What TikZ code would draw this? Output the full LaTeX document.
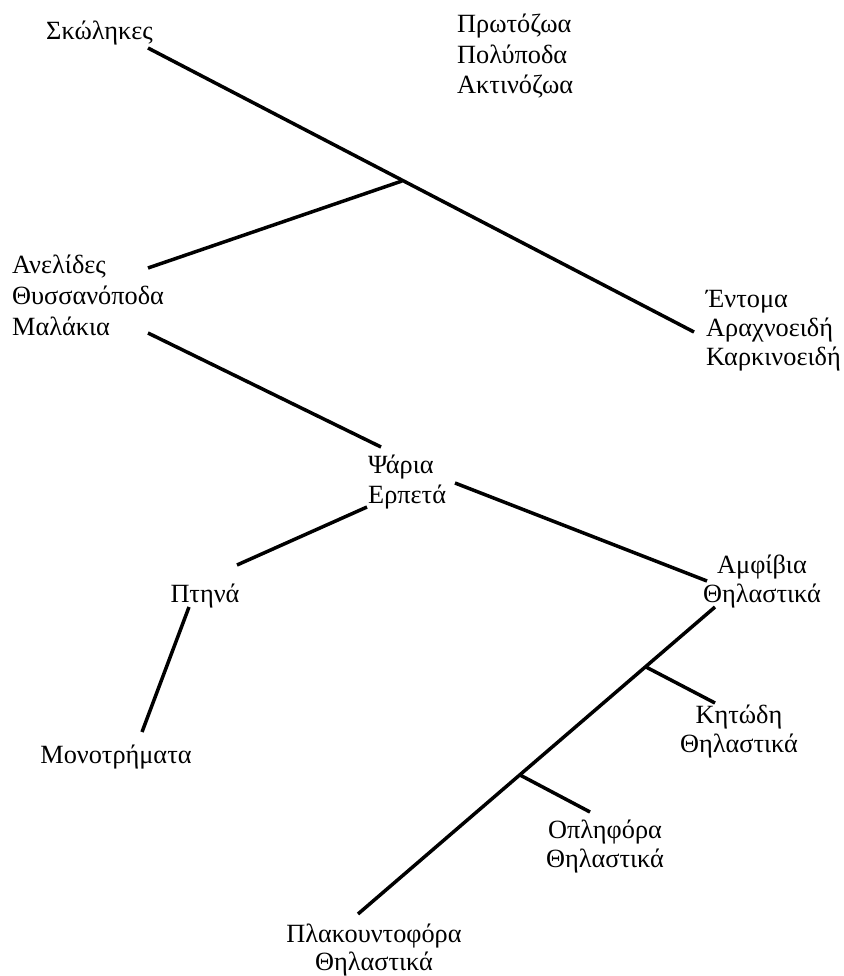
\documentclass[tikz,border=0pt]{standalone}
\usepackage{fontspec}
\setmainfont{Liberation Serif}
\begin{document}
\begin{tikzpicture}[x=1pt,y=-1pt,
  lbl/.style={inner sep=0pt,font=\fontsize{26.3}{30}\selectfont},
  lw/.style={lbl,anchor=base west},
  lc/.style={lbl,anchor=base},
  branch/.style={line width=3.5pt,line cap=butt}]
\useasboundingbox (0,0) rectangle (843,976);

% upper groups (left-aligned text)
\node[lw] (skol) at (46,40) {Σκώληκες};
\node[lw] (prot) at (457,33) {Πρωτόζωα};
\node[lw] (poly) at (457,64) {Πολύποδα};
\node[lw] (akti) at (457,94) {Ακτινόζωα};
\node[lw] (anel) at (12,273) {Ανελίδες};
\node[lw] (thys) at (12,304) {Θυσσανόποδα};
\node[lw] (mala) at (12,335) {Μαλάκια};
\node[lw] (ento) at (706,307) {Έντομα};
\node[lw] (arax) at (706,336) {Αραχνοειδή};
\node[lw] (kark) at (706,365) {Καρκινοειδή};
\node[lw] (psar) at (368,473) {Ψάρια};
\node[lw] (erpe) at (368,503) {Ερπετά};

% lower groups (centred text)
\node[lc] (amfi) at (762,573) {Αμφίβια};
\node[lc] (thla) at (762,602) {Θηλαστικά};
\node[lc] (ptin) at (205,602) {Πτηνά};
\node[lc] (mono) at (116,763) {Μονοτρήματα};
\node[lc] (kito) at (739,723) {Κητώδη};
\node[lc] (thlk) at (739,752) {Θηλαστικά};
\node[lc] (opli) at (605,838) {Οπληφόρα};
\node[lc] (thlo) at (605,867) {Θηλαστικά};
\node[lc] (plak) at (374,942) {Πλακουντοφόρα};
\node[lc] (thlp) at (374,970) {Θηλαστικά};

% connector ends next to the labels
\coordinate (skolE) at (148,48);
\coordinate (entoW) at (694,332);
\coordinate (j1) at (402,181);
\coordinate (anelE) at (148,268);
\coordinate (malaE) at (148,333);
\coordinate (psarN) at (381,447);
\coordinate (erpeW) at (367,507);
\coordinate (ptinE) at (237,565);
\coordinate (erpeE) at (455,483);
\coordinate (amfiW) at (707,581);
\coordinate (ptinS) at (189,607);
\coordinate (monoN) at (142,732);
\coordinate (thlaS) at (715,607);
\coordinate (plakN) at (358,914);
\coordinate (j2) at (646,667);
\coordinate (kitoN) at (715,703);
\coordinate (j3) at (520,775);
\coordinate (opliN) at (590,812);

% branches
\draw[branch] (skolE) -- (entoW);
\draw[branch] (anelE) -- (j1);
\draw[branch] (malaE) -- (psarN);
\draw[branch] (erpeW) -- (ptinE);
\draw[branch] (erpeE) -- (amfiW);
\draw[branch] (ptinS) -- (monoN);
\draw[branch] (thlaS) -- (plakN);
\draw[branch] (j2) -- (kitoN);
\draw[branch] (j3) -- (opliN);
\end{tikzpicture}
\end{document}
